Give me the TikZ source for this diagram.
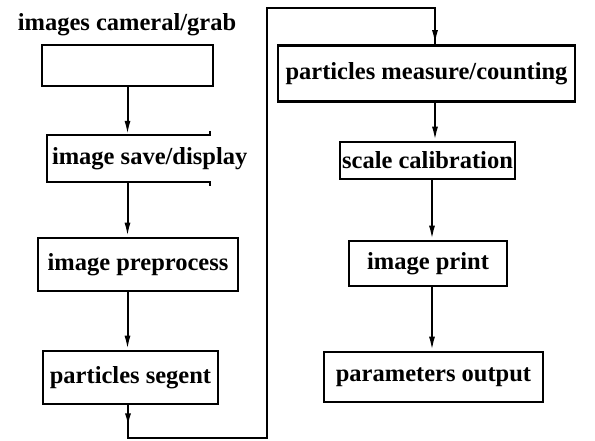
\documentclass[tikz,border=0pt]{standalone}
\usepackage{fontspec}
\setmainfont{Liberation Serif}
\usetikzlibrary{arrows.meta, decorations.markings}
\tikzset{
  stepbox/.style={draw, line width=2.8pt, inner sep=0pt},
  flow/.style={line width=2pt, -{Latex[length=14pt,width=6pt]}},
  wire/.style={line width=2.4pt},
  downmark/.style={
    decoration={
      markings,
      mark=at position 22pt with {\arrow{Latex[length=14pt,width=6pt]}}
    },
    postaction={decorate}
  }
}

\begin{document}
\begin{tikzpicture}[x=1pt, y=-1pt, font=\fontsize{24.5}{28}\selectfont\bfseries]
    \useasboundingbox (0,0) rectangle (595,441);

    % Left column
    \node (title) at (127,25) {images cameral/grab};
    \node[stepbox, minimum width=171, minimum height=41] (grab) at (127.5,65.5) {};
    \node[inner sep=0pt, minimum width=163, minimum height=47] (save) at (128.5,158.5) {};
    \node[anchor=west, inner sep=0pt] (savetext) at ([xshift=5pt]save.west) {image save/display};
    \node[stepbox, minimum width=200, minimum height=53] (prep) at (138,264.5) {image preprocess};
    \node[stepbox, minimum width=175, minimum height=53] (seg) at (130.5,377.5) {particles segent};

    % Right column
    \node[stepbox, minimum width=297, minimum height=56] (meas) at (426.5,73.5) {particles measure/counting};
    \node[stepbox, minimum width=175, minimum height=37] (cal) at (427.5,160.5) {scale calibration};
    \node[stepbox, minimum width=158, minimum height=45] (print) at (428,263.5) {image print};
    \node[stepbox, minimum width=219, minimum height=50] (out) at (433.5,377) {parameters output};

    % Open box round save/display
    \draw[wire] ([yshift=4pt]save.north east) -- (save.north east) -- (save.north west)
        -- (save.south west) -- (save.south east) -- ([yshift=-4pt]save.south east);

    % Links
    \draw[flow] (grab.south) -- (save.north -| grab.south);
    \draw[flow] (save.south -| grab.south) -- (prep.north -| grab.south);
    \draw[flow] (prep.south -| grab.south) -- (seg.north -| grab.south);
    \coordinate (c1) at (128,438);
    \coordinate (c2) at (267,438);
    \coordinate (c3) at (267,8);
    \coordinate (c4) at (435,8);
    \draw[wire, downmark] (seg.south -| c1) -- (c1) -- (c2) -- (c3) -- (c4) -- ([yshift=-2pt]c4 |- meas.north);
    \draw[flow] (c4) -- (c4 |- meas.north);
    \draw[flow] (meas.south -| c4) -- (cal.north -| c4);
    \draw[flow] ([xshift=-3pt]cal.south -| c4) -- ([xshift=-3pt]print.north -| c4);
    \draw[flow] ([xshift=-3pt]print.south -| c4) -- ([xshift=-3pt]out.north -| c4);
\end{tikzpicture}
\end{document}
